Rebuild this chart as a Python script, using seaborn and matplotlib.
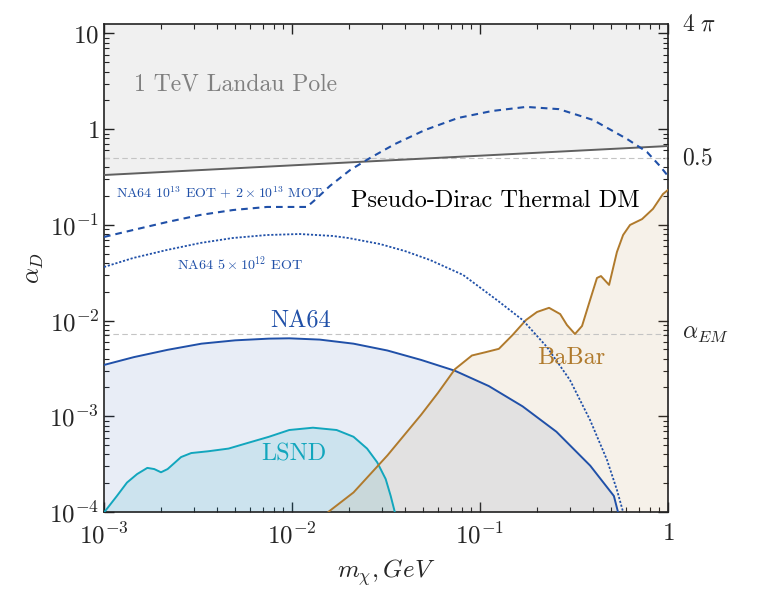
import numpy as np
import pandas as pd
import matplotlib
matplotlib.use("Agg")
import matplotlib.pyplot as plt
import matplotlib.ticker as mticker
import seaborn as sns

# ---------------- data ----------------
landau_x = [1e-3, 1.0]
landau_y = [0.332, 0.667]

na64_x = [1e-3, 1.44e-3, 2.18e-3, 3.30e-3, 4.99e-3, 7.54e-3, 9.67e-3, 0.01404, 0.02124,
          0.03217, 0.04866, 0.0736, 0.1114, 0.1685, 0.2549, 0.3857, 0.5155, 0.542]
na64_y = [3.44e-3, 4.15e-3, 4.95e-3, 5.74e-3, 6.22e-3, 6.48e-3, 6.53e-3, 6.33e-3, 5.74e-3,
          4.87e-3, 3.88e-3, 2.99e-3, 2.07e-3, 1.27e-3, 6.90e-4, 3.05e-4, 1.47e-4, 1e-4]

lsnd_x = [1.005e-3, 1.171e-3, 1.325e-3, 1.50e-3, 1.70e-3, 1.85e-3, 2.01e-3, 2.18e-3, 2.57e-3,
          2.91e-3, 3.58e-3, 4.60e-3, 5.65e-3, 7.54e-3, 9.67e-3, 0.01293, 0.01727, 0.02124,
          0.02508, 0.02838, 0.03150, 0.03350, 0.03522]
lsnd_y = [1e-4, 1.47e-4, 2.03e-4, 2.49e-4, 2.89e-4, 2.81e-4, 2.60e-4, 2.81e-4, 3.75e-4,
          4.13e-4, 4.31e-4, 4.60e-4, 5.18e-4, 6.11e-4, 7.19e-4, 7.60e-4, 7.19e-4, 6.11e-4,
          4.60e-4, 3.31e-4, 2.21e-4, 1.47e-4, 1e-4]

babar_x = [0.01558, 0.02124, 0.03217, 0.04866, 0.0598, 0.0736, 0.0906, 0.1068, 0.1260,
           0.1487, 0.1757, 0.201, 0.233, 0.267, 0.290, 0.320, 0.349, 0.385, 0.419, 0.440,
           0.486, 0.535, 0.577, 0.628, 0.728, 0.832, 0.940, 1.0]
babar_y = [1e-4, 1.60e-4, 3.90e-4, 1.04e-3, 1.76e-3, 3.11e-3, 4.32e-3, 4.67e-3, 5.07e-3,
           7.04e-3, 0.01015, 0.0123, 0.0136, 0.0117, 9.0e-3, 7.24e-3, 8.79e-3, 0.0164, 0.0279,
           0.0292, 0.0236, 0.0521, 0.0784, 0.0998, 0.115, 0.147, 0.210, 0.232]

mot_x = [1e-3, 1.43e-3, 2.16e-3, 3.25e-3, 4.85e-3, 7.36e-3, 0.0120, 0.01324, 0.0159, 0.0204,
         0.0260, 0.0353, 0.0510, 0.0764, 0.116, 0.176, 0.263, 0.399, 0.605, 0.773, 0.906, 1.0]
mot_y = [0.0748, 0.0885, 0.107, 0.127, 0.143, 0.154, 0.154, 0.182, 0.255, 0.375,
         0.500, 0.700, 0.981, 1.31, 1.55, 1.71, 1.62, 1.25, 0.791, 0.578, 0.412, 0.324]

eot_x = [1e-3, 1.43e-3, 2.16e-3, 3.25e-3, 4.85e-3, 7.36e-3, 0.0110, 0.0165, 0.0199, 0.0294,
         0.0399, 0.0542, 0.0813, 0.123, 0.169, 0.227, 0.301, 0.385, 0.474, 0.535, 0.577]
eot_y = [0.0363, 0.0451, 0.0547, 0.0647, 0.0730, 0.0784, 0.0803, 0.0766, 0.0730, 0.0631,
         0.0533, 0.0430, 0.0300, 0.0164, 0.0101, 5.30e-3, 2.39e-3, 9.14e-4, 3.49e-4, 1.70e-4, 1e-4]

alpha_em = 1 / 137.0
half_line = 0.5
four_pi = 4 * np.pi

x_ticks = [1e-3, 1e-2, 1e-1, 1]
x_ticklabels = [r"$10^{-3}$", r"$10^{-2}$", r"$10^{-1}$", r"$1$"]
y_ticks = [1e-4, 1e-3, 1e-2, 1e-1, 1, 10]
y_ticklabels = [r"$10^{-4}$", r"$10^{-3}$", r"$10^{-2}$", r"$10^{-1}$", r"$1$", r"$10$"]
right_vals = [four_pi, half_line, alpha_em]
right_labels = [r"$4\ \pi$", r"$0.5$", r"$\alpha_{EM}$"]

# ---------------- style ----------------
sns.set_theme(style="ticks")
plt.rcParams["font.family"] = ["cmr10", "DejaVu Serif"]
plt.rcParams["mathtext.fontset"] = "cm"
plt.rcParams["axes.formatter.use_mathtext"] = True
plt.rcParams["axes.unicode_minus"] = False

C_BLUE = "#2050a8"
C_CYAN = "#12a6bd"
C_BROWN = "#b07a2c"
C_GRAY = "#606060"

fig = plt.figure(figsize=(7.68, 5.91), dpi=100)
ax = fig.add_axes([104 / 768, 79 / 591, 564 / 768, 488 / 591])
ax.set_xscale("log")
ax.set_yscale("log")
ax.set_xlim(1e-3, 1)
ax.set_ylim(1e-4, four_pi)

# fills
ax.fill_between(landau_x, landau_y, four_pi, color="#f0f0f0", lw=0, zorder=0)
ax.fill_between(na64_x, 1e-4, na64_y, color=C_BLUE, alpha=0.1, lw=0, zorder=1)
ax.fill_between(lsnd_x, 1e-4, lsnd_y, color=C_CYAN, alpha=0.13, lw=0, zorder=1)
ax.fill_between(babar_x, 1e-4, babar_y, color=C_BROWN, alpha=0.1, lw=0, zorder=1)

# reference horizontal lines
for v in (half_line, alpha_em):
    ax.axhline(v, color="#c4c4c4", lw=0.8, ls=(0, (5, 3)), zorder=1.5)

def draw(xs, ys, color, lw, ls):
    df = pd.DataFrame({"x": xs, "y": ys})
    sns.lineplot(data=df, x="x", y="y", ax=ax, color=color, lw=lw, ls=ls,
                 sort=False, estimator=None, zorder=3)

draw(landau_x, landau_y, C_GRAY, 1.4, "-")
draw(na64_x, na64_y, C_BLUE, 1.4, "-")
draw(lsnd_x, lsnd_y, C_CYAN, 1.4, "-")
draw(babar_x, babar_y, C_BROWN, 1.4, "-")
draw(mot_x, mot_y, C_BLUE, 1.5, (0, (3.2, 2.4)))
draw(eot_x, eot_y, C_BLUE, 1.3, (0, (1.2, 1.0)))

# texts
ax.text(1.44e-3, 2.97, "1 TeV Landau Pole", color="#808080", fontsize=17, va="center")
ax.text(0.0206, 0.178, "Pseudo-Dirac Thermal DM", color="black", fontsize=17.5, va="center")
ax.text(1.16e-3, 0.213, r"NA64 $10^{13}$ EOT + $2\times10^{13}$ MOT", color=C_BLUE,
        fontsize=10, va="center")
ax.text(2.44e-3, 0.039, r"NA64 $5\times10^{12}$ EOT", color=C_BLUE, fontsize=10.2, va="center")
ax.text(7.63e-3, 9.9e-3, "NA64", color=C_BLUE, fontsize=17.5, va="center")
ax.text(6.84e-3, 4.04e-4, "LSND", color=C_CYAN, fontsize=17.5, va="center")
ax.text(0.201, 4.06e-3, "BaBar", color=C_BROWN, fontsize=17.5, va="center")

for v, lab in zip(right_vals, right_labels):
    ax.text(1.025, v, lab, transform=ax.get_yaxis_transform(), fontsize=17,
            va="center", ha="left")

# axes
ax.set_xticks(x_ticks)
ax.set_xticklabels(x_ticklabels)
ax.set_yticks(y_ticks)
ax.set_yticklabels(y_ticklabels)
ax.xaxis.set_minor_locator(mticker.LogLocator(base=10, subs=np.arange(2, 10), numticks=20))
ax.yaxis.set_minor_locator(mticker.LogLocator(base=10, subs=np.arange(2, 10), numticks=20))
ax.xaxis.set_minor_formatter(mticker.NullFormatter())
ax.yaxis.set_minor_formatter(mticker.NullFormatter())
ax.tick_params(which="both", direction="in", top=True, right=True, labelsize=18,
               color="#222222")
ax.tick_params(which="major", length=7, width=1.0)
ax.tick_params(which="minor", length=3.5, width=0.8)
ax.tick_params(axis="x", pad=8)
for s in ax.spines.values():
    s.set_linewidth(1.2)
    s.set_color("#222222")

ax.set_xlabel(r"$m_\chi, GeV$", fontsize=18, labelpad=6)
ax.set_ylabel(r"$\alpha_D$", fontsize=18, labelpad=2)

fig.savefig("out.png", dpi=100)
